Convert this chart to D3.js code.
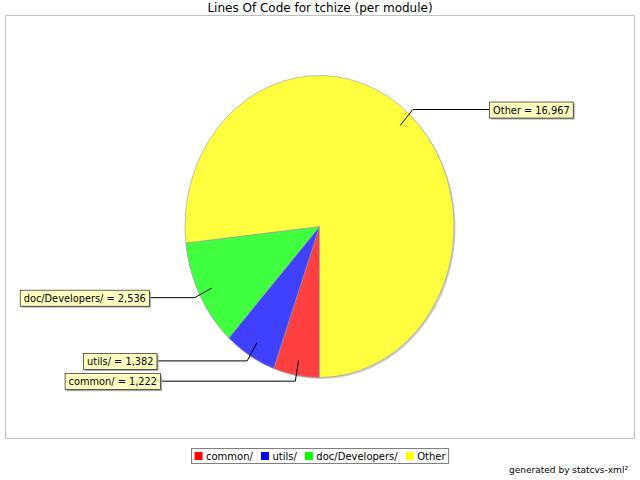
<!DOCTYPE html>
<html>
<head>
<meta charset="utf-8">
<script src="https://cdn.jsdelivr.net/npm/d3@7"></script>
<style>
  html, body { margin: 0; padding: 0; background: #fff; }
  svg { display: block; font-family: "DejaVu Sans", sans-serif; }
</style>
</head>
<body>
<svg id="chart" width="640" height="480"></svg>
<script>
const title = "Lines Of Code for tchize (per module)";
const categories = ["common/", "utils/", "doc/Developers/", "Other"];
const values = [1222, 1382, 2536, 16967];
const pieColors = ["#ff4040", "#4040ff", "#40ff40", "#ffff40"];
const legendColors = ["#ff0000", "#0000ff", "#00ff00", "#ffff00"];
const footer = "generated by statcvs-xml\u00b2";

const W = 640, H = 480;
const svg = d3.select("#chart");
const fmt = d3.format(",");

// plot frame
const plot = { x: 5, y: 15, w: 630, h: 424 };
svg.append("rect")
  .attr("x", plot.x + 0.5).attr("y", plot.y + 0.5)
  .attr("width", plot.w - 1).attr("height", plot.h - 1)
  .attr("fill", "#fff").attr("stroke", "#c0c0c0").attr("stroke-width", 1);

// title
svg.append("text")
  .attr("x", W / 2).attr("y", 12)
  .attr("text-anchor", "middle")
  .attr("font-size", 12).attr("fill", "#000")
  .text(title);

// pie geometry (ellipse)
const cx = 319.5, cy = 226.5, rx = 134.5, ry = 151;
const pie = d3.pie().sort(null).value(d => d).startAngle(Math.PI).endAngle(3 * Math.PI);
const arcs = pie(values);
const arc = d3.arc().innerRadius(0).outerRadius(ry);

const gs = svg.append("g").attr("transform", `translate(${cx + 1.5},${cy + 1.5}) scale(${rx / ry},1)`);
gs.selectAll("path").data(arcs).join("path")
  .attr("d", arc).attr("fill", "#cccccc");
const g = svg.append("g").attr("transform", `translate(${cx},${cy}) scale(${rx / ry},1)`);
g.selectAll("path").data(arcs).join("path")
  .attr("d", arc)
  .attr("fill", (d, i) => pieColors[i])
  .attr("stroke", "#999")
  .attr("stroke-width", 0.6)
  .attr("vector-effect", "non-scaling-stroke");

// labels
function pt(a, f) {
  return [cx + Math.sin(a) * rx * f, cy - Math.cos(a) * ry * f];
}
const Lrx = rx * 1.29, Lry = ry * 2.6;
const labelG = svg.append("g");
arcs.forEach((d, i) => {
  const mid = (d.startAngle + d.endAngle) / 2;
  const a0 = pt(mid, 0.9);
  const e = pt(mid, 1.04);
  const right = Math.sin(mid) > 0;
  const dy = e[1] - cy;
  const off = Lrx * Math.sqrt(Math.max(0, 1 - (dy / Lry) ** 2));
  const edgeX = right ? cx + off + 4 : cx - off;

  const txt = `${categories[i]} = ${fmt(values[i])}`;
  const t = labelG.append("text")
    .attr("font-size", 9.8).attr("fill", "#000")
    .attr("dominant-baseline", "central")
    .text(txt);
  const tw = t.node().getComputedTextLength();
  const bw = tw + 7, bh = 16;
  const bx = right ? edgeX : edgeX - bw;
  const by = e[1] - bh / 2;

  labelG.insert("path", "text")
    .attr("d", `M${a0[0]},${a0[1]}L${e[0]},${e[1]}L${right ? bx : bx + bw},${e[1]}`)
    .attr("fill", "none").attr("stroke", "#000").attr("stroke-width", 1);
  labelG.insert("rect", "text")
    .attr("x", bx + 2).attr("y", by + 2).attr("width", bw).attr("height", bh)
    .attr("fill", "#a8a8a8");
  labelG.insert("rect", "text")
    .attr("x", bx + 0.5).attr("y", by + 0.5).attr("width", bw).attr("height", bh)
    .attr("fill", "#ffffc0").attr("stroke", "#000").attr("stroke-width", 0.6);
  t.attr("x", bx + 4).attr("y", by + bh / 2 + 0.5);
});

// legend
const lg = svg.append("g");
const items = [];
categories.forEach((c, i) => {
  const it = lg.append("g");
  it.append("rect").attr("x", 0).attr("y", -4).attr("width", 8).attr("height", 8)
    .attr("fill", legendColors[i]);
  const t = it.append("text").attr("x", 11.5).attr("y", 0)
    .attr("dominant-baseline", "central").attr("font-size", 10).text(c);
  const w = 11.5 + t.node().getComputedTextLength();
  items.push({ it, w });
});
const gap = 8, pad = 3;
const totalW = d3.sum(items, d => d.w) + gap * (items.length - 1) + pad * 2;
const legX = Math.round(W / 2 - totalW / 2), legY = 448, legH = 15;
lg.insert("rect", "g").attr("x", legX + 0.5).attr("y", legY + 0.5).attr("width", totalW).attr("height", legH)
  .attr("fill", "#fff").attr("stroke", "#808080").attr("stroke-width", 1);
let lx = legX + pad + 0.5;
items.forEach(d => {
  d.it.attr("transform", `translate(${lx},${legY + legH / 2 + 0.5})`);
  lx += d.w + gap;
});

// footer
svg.append("text")
  .attr("x", 628).attr("y", 473)
  .attr("text-anchor", "end").attr("font-size", 9)
  .text(footer);
</script>
</body>
</html>
